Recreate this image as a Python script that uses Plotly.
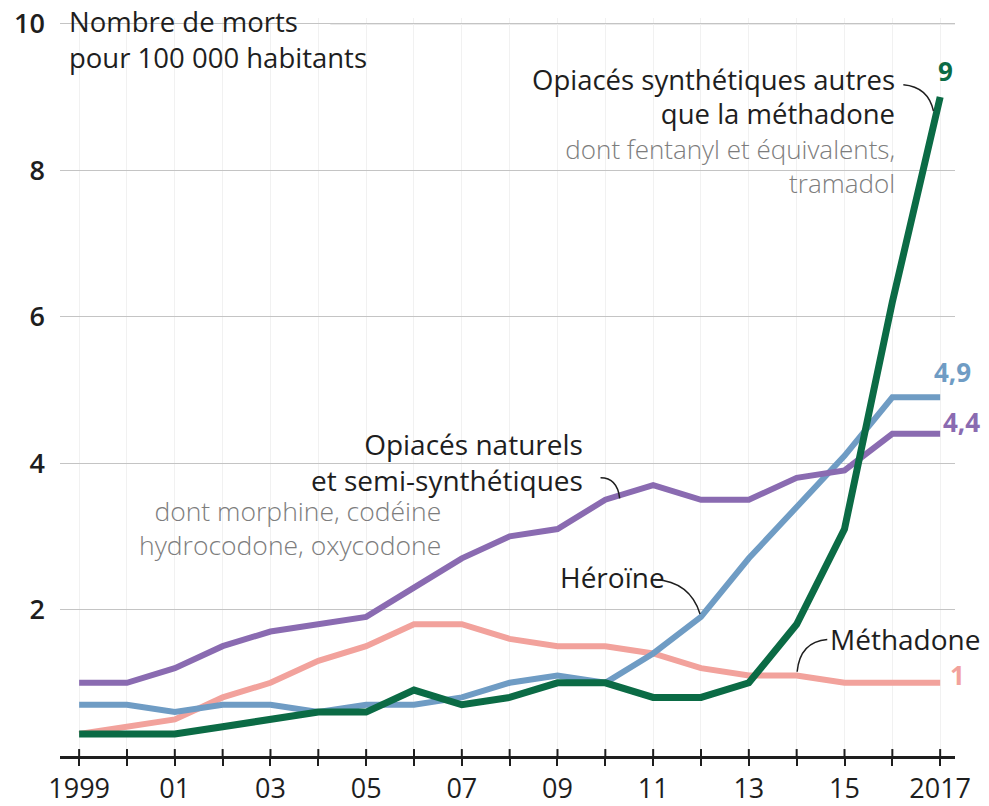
import plotly.graph_objects as go

years = list(range(1999, 2018))
synthetiques = [0.3, 0.3, 0.3, 0.4, 0.5, 0.6, 0.6, 0.9, 0.7, 0.8, 1.0, 1.0, 0.8, 0.8, 1.0, 1.8, 3.1, 6.2, 9.0]
heroine = [0.7, 0.7, 0.6, 0.7, 0.7, 0.6, 0.7, 0.7, 0.8, 1.0, 1.1, 1.0, 1.4, 1.9, 2.7, 3.4, 4.1, 4.9, 4.9]
naturels = [1.0, 1.0, 1.2, 1.5, 1.7, 1.8, 1.9, 2.3, 2.7, 3.0, 3.1, 3.5, 3.7, 3.5, 3.5, 3.8, 3.9, 4.4, 4.4]
methadone = [0.3, 0.4, 0.5, 0.8, 1.0, 1.3, 1.5, 1.8, 1.8, 1.6, 1.5, 1.5, 1.4, 1.2, 1.1, 1.1, 1.0, 1.0, 1.0]
tick_labels = ["1999", "", "01", "", "03", "", "05", "", "07", "", "09", "", "11", "", "13", "", "15", "", "2017"]
y_ticks = [2, 4, 6, 8, 10]

FONT = "Open Sans"
C_PURPLE = "#8a6bb1"
C_BLUE = "#6f9cc4"
C_PINK = "#f2a29c"
C_GREEN = "#0b6b45"
GREY_TXT = "#7d7d7d"
INK = "#1e1e1e"
GRID = "#c4c4c4"

fig = go.Figure()
series = [
    (methadone, C_PINK, 6),
    (heroine, C_BLUE, 6),
    (naturels, C_PURPLE, 6),
    (synthetiques, C_GREEN, 7),
]
for vals, col, w in series:
    fig.add_trace(go.Scatter(x=years, y=vals, mode="lines",
                             line=dict(color=col, width=w, shape="linear"),
                             hoverinfo="skip", showlegend=False))

xr = [1998.6, 2017.31]
fig.update_layout(
    width=989, height=806,
    margin=dict(l=60, r=34, t=18, b=50),
    paper_bgcolor="white", plot_bgcolor="white",
    font=dict(family=FONT, size=22, color=INK),
    xaxis=dict(range=xr, tickvals=years, ticktext=tick_labels, ticks="outside",
               ticklen=7, tickwidth=2, tickcolor=INK, showline=True, linecolor=INK,
               linewidth=3, showgrid=True, gridcolor="#f1f1f1", gridwidth=1,
               zeroline=False, automargin=False, tickfont=dict(size=27, color=INK)),
    yaxis=dict(range=[0, 10.08], tickvals=y_ticks, ticktext=[str(v) for v in y_ticks],
               showgrid=True, gridcolor=GRID, gridwidth=1, zeroline=False,
               showline=False, ticks="", ticklabelstandoff=14, automargin=False,
               tickfont=dict(size=27, color=INK, weight=600)),
)

# inner half of the x tick marks (tick marks cross the axis line)
for yr in years:
    fig.add_shape(type="line", xref="x", yref="y", x0=yr, x1=yr, y0=0, y1=0.095,
                  line=dict(color=INK, width=2))

# white patch hiding the top gridline behind the axis title, and the visible rest of it
fig.add_shape(type="rect", xref="paper", yref="y", x0=0, x1=0.302, y0=9.9, y1=10.08,
              fillcolor="white", line=dict(width=0), layer="between")
fig.add_shape(type="line", xref="paper", yref="y", x0=0.302, x1=1, y0=y_ticks[-1], y1=y_ticks[-1],
              line=dict(color=GRID, width=1), layer="between")

ann = []
def txt(x, y, t, xanchor, size=28, color=INK, xref="x", yref="y", weight=None):
    f = dict(family=FONT, size=size, color=color)
    if weight:
        f["weight"] = weight
    ann.append(dict(x=x, y=y, xref=xref, yref=yref, text=t, showarrow=False,
                    xanchor=xanchor, yanchor="middle", font=f, align=xanchor))

def grey(t):
    return f"<span style='color:{GREY_TXT};font-size:26px;font-weight:300'>{t}</span>"

def black(t):
    return f"<span style='font-size:27.5px'>{t}</span>"

# Axis title
txt(0.008, 9.79, "Nombre de morts<br>pour 100 000 habitants", "left", size=27.5, xref="paper")

# Synthetic (black title + grey detail in one block)
txt(2016.10, 8.54,
    black("Opiacés synthétiques autres") + "<br>" + black("que la méthadone") + "<br>"
    + grey("dont fentanyl et équivalents,") + "<br>" + grey("tramadol"),
    "right", size=26.5)
# Natural
txt(2009.58, 4.015, "Opiacés naturels<br>et semi-synthétiques", "right")
txt(2006.61, 3.11, "dont morphine, codéine<br>hydrocodone, oxycodone", "right", size=26.5,
    color=GREY_TXT, weight=300)
# Heroin / methadone
txt(2009.01, 2.44, "Héroïne", "left")
txt(2014.66, 1.60, "Méthadone", "left")

# End values
ends = [(synthetiques, C_GREEN, "9", 5, 26, "center"),
        (heroine, C_BLUE, "4,9", -8, 25, "left"),
        (naturels, C_PURPLE, "4,4", 1, 12, "left"),
        (methadone, C_PINK, "1", 8, 8, "left")]
for vals, col, t, xs, ys, xa in ends:
    ann.append(dict(x=years[-1], y=vals[-1], xref="x", yref="y", text="<b>" + t + "</b>",
                    showarrow=False, xanchor=xa, yanchor="middle", xshift=xs, yshift=ys,
                    font=dict(family=FONT, size=26, color=col)))

fig.update_layout(annotations=ann)

# leader curves
leaders = [
    ((2016.23, 9.17), (2016.75, 9.14), (2016.86, 8.81)),
    ((2009.90, 3.80), (2010.25, 3.80), (2010.30, 3.52)),
    ((2011.04, 2.41), (2011.77, 2.38), (2011.98, 1.94)),
    ((2014.64, 1.59), (2014.07, 1.56), (2014.01, 1.15)),
]
for (x0, y0), (cx, cy), (x1, y1) in leaders:
    fig.add_shape(type="path", xref="x", yref="y",
                  path=f"M {x0},{y0} Q {cx},{cy} {x1},{y1}",
                  line=dict(color=INK, width=1.5))

fig.write_html("out.html", config={"displayModeBar": False},
               post_script="document.body.style.margin='0';")
